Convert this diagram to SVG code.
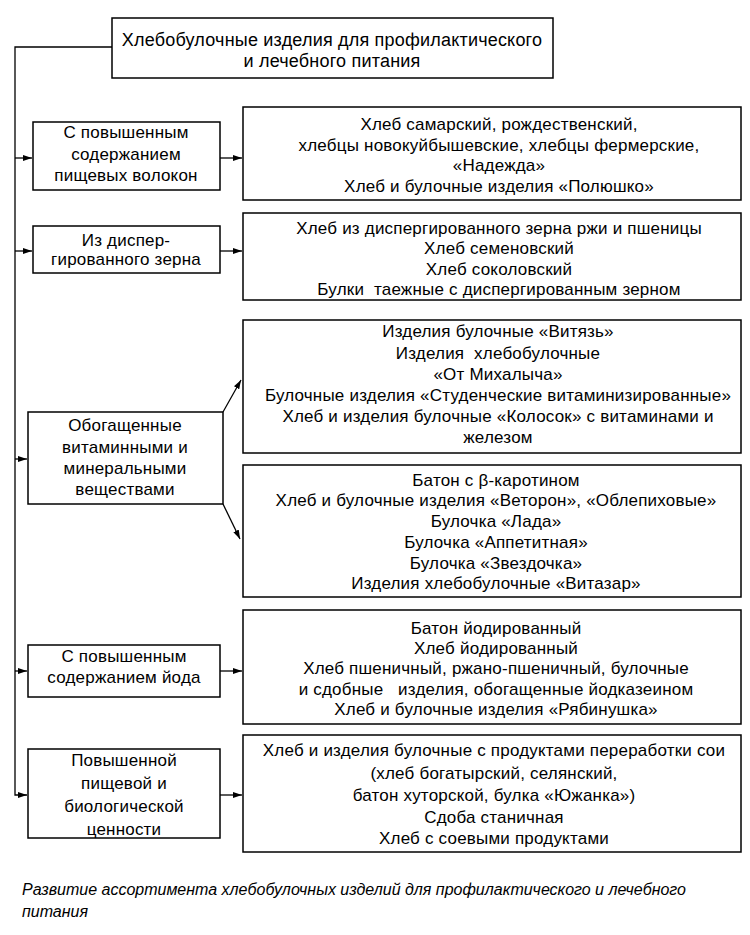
<svg xmlns="http://www.w3.org/2000/svg" width="750" height="935" viewBox="0 0 750 935">
<style>
.box{fill:#fff;stroke:#000;stroke-width:1.5}
.t{font-family:"Liberation Sans",Arial,sans-serif;font-size:17px;letter-spacing:0.2px;fill:#000;text-anchor:middle}
.pre{white-space:pre}
.c{stroke:#000;stroke-width:1.3;fill:none}
.cap{font-family:"Liberation Sans",Arial,sans-serif;font-size:16px;font-style:italic;fill:#000}
</style>
<defs>
<marker id="ah" markerWidth="10" markerHeight="8" refX="9" refY="4" orient="auto" markerUnits="userSpaceOnUse">
<path d="M0,1 L9,4 L0,7 Z" fill="#000"/>
</marker>
</defs>
<rect width="750" height="935" fill="#fff"/>
<g id="connectors">
<path class="c" d="M112,47 H15 V795 H27" marker-end="url(#ah)"/>
<path class="c" d="M15,158 H32" marker-end="url(#ah)"/>
<path class="c" d="M15,251 H32" marker-end="url(#ah)"/>
<path class="c" d="M15,459 H27" marker-end="url(#ah)"/>
<path class="c" d="M15,671 H27" marker-end="url(#ah)"/>
<path class="c" d="M220,158 H242" marker-end="url(#ah)"/>
<path class="c" d="M220,251 H242" marker-end="url(#ah)"/>
<path class="c" d="M223,412 L241,380" marker-end="url(#ah)"/>
<path class="c" d="M223,504 L240,539" marker-end="url(#ah)"/>
<path class="c" d="M220,671 H242" marker-end="url(#ah)"/>
<path class="c" d="M220,795 H242" marker-end="url(#ah)"/>
</g>
<g id="root">
<rect class="box" x="112" y="18" width="441" height="60"/>
<text class="t" x="332" y="46" style="font-size:18px">Хлебобулочные изделия для профилактического</text>
<text class="t" x="332" y="67" style="font-size:18px">и лечебного питания</text>
</g>
<g id="cat1">
<rect class="box" x="33" y="122" width="187" height="68"/>
<text class="t" x="126" y="138">С повышенным</text>
<text class="t" x="126" y="160">содержанием</text>
<text class="t" x="126" y="181">пищевых волокон</text>
</g>
<g id="list1">
<rect class="box" x="243" y="107" width="498" height="93"/>
<text class="t" x="499" y="130">Хлеб самарский, рождественский,</text>
<text class="t" x="499" y="151">хлебцы новокуйбышевские, хлебцы фермерские,</text>
<text class="t" x="499" y="171">«Надежда»</text>
<text class="t" x="499" y="192">Хлеб и булочные изделия «Полюшко»</text>
</g>
<g id="cat2">
<rect class="box" x="33" y="226" width="187" height="47"/>
<text class="t" x="126" y="246">Из диспер-</text>
<text class="t" x="126" y="265">гированного зерна</text>
</g>
<g id="list2">
<rect class="box" x="243" y="213" width="498" height="87"/>
<text class="t" x="499" y="234">Хлеб из диспергированного зерна ржи и пшеницы</text>
<text class="t" x="499" y="254">Хлеб семеновский</text>
<text class="t" x="499" y="275">Хлеб соколовский</text>
<text class="t pre" x="499" y="295">Булки  таежные с диспергированным зерном</text>
</g>
<g id="cat3">
<rect class="box" x="28" y="412" width="195" height="92"/>
<text class="t" x="125" y="431">Обогащенные</text>
<text class="t" x="125" y="453">витаминными и</text>
<text class="t" x="125" y="474">минеральными</text>
<text class="t" x="125" y="495">веществами</text>
</g>
<g id="list3">
<rect class="box" x="243" y="320" width="498" height="133"/>
<text class="t" x="498" y="337">Изделия булочные «Витязь»</text>
<text class="t pre" x="498" y="359">Изделия  хлебобулочные</text>
<text class="t" x="498" y="380">«От Михалыча»</text>
<text class="t" x="498" y="401">Булочные изделия «Студенческие витаминизированные»</text>
<text class="t" x="498" y="422">Хлеб и изделия булочные «Колосок» с витаминами и</text>
<text class="t" x="498" y="443">железом</text>
</g>
<g id="list4">
<rect class="box" x="243" y="465" width="498" height="132"/>
<text class="t" x="496" y="486">Батон с β-каротином</text>
<text class="t" x="496" y="506">Хлеб и булочные изделия «Веторон», «Облепиховые»</text>
<text class="t" x="496" y="527">Булочка «Лада»</text>
<text class="t" x="496" y="548">Булочка «Аппетитная»</text>
<text class="t" x="496" y="569">Булочка «Звездочка»</text>
<text class="t" x="496" y="589">Изделия хлебобулочные «Витазар»</text>
</g>
<g id="cat4">
<rect class="box" x="28" y="645" width="192" height="52"/>
<text class="t" x="124" y="662">С повышенным</text>
<text class="t" x="124" y="683">содержанием йода</text>
</g>
<g id="list5">
<rect class="box" x="243" y="610" width="498" height="114"/>
<text class="t" x="496" y="634">Батон йодированный</text>
<text class="t" x="496" y="654">Хлеб йодированный</text>
<text class="t" x="496" y="674">Хлеб пшеничный, ржано-пшеничный, булочные</text>
<text class="t pre" x="496" y="695">и сдобные   изделия, обогащенные йодказеином</text>
<text class="t" x="496" y="715">Хлеб и булочные изделия «Рябинушка»</text>
</g>
<g id="cat5">
<rect class="box" x="28" y="749" width="192" height="89"/>
<text class="t" x="124" y="766">Повышенной</text>
<text class="t" x="124" y="789">пищевой и</text>
<text class="t" x="124" y="812">биологической</text>
<text class="t" x="124" y="835">ценности</text>
</g>
<g id="list6">
<rect class="box" x="243" y="735" width="498" height="117"/>
<text class="t" x="494" y="756">Хлеб и изделия булочные с продуктами переработки сои</text>
<text class="t" x="494" y="779">(хлеб богатырский, селянский,</text>
<text class="t" x="494" y="801">батон хуторской, булка «Южанка»)</text>
<text class="t" x="494" y="823">Сдоба станичная</text>
<text class="t" x="494" y="844">Хлеб с соевыми продуктами</text>
</g>
<text class="cap" x="22" y="895">Развитие ассортимента хлебобулочных изделий для профилактического и лечебного</text>
<text class="cap" x="22" y="917">питания</text>
</svg>
